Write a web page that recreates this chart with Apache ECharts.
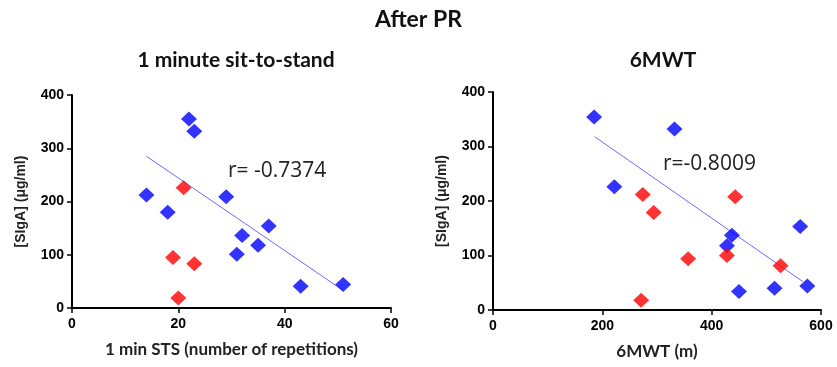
<!DOCTYPE html>
<html><head><meta charset="utf-8">
<script src="https://cdn.jsdelivr.net/npm/echarts@6/dist/echarts.min.js"></script>
<style>html,body{margin:0;padding:0;background:#fff}#c{width:837px;height:367px}</style>
</head><body><div id="c"></div>
<script>
// Left panel: 1 min STS vs SIgA
const stsBlueX = [14, 18, 22, 23, 29, 32, 31, 35, 37, 43, 51];
const stsBlueY = [212, 180, 355, 332, 209, 136, 101, 118, 154, 41, 44];
const stsRedX = [21, 19, 23, 20];
const stsRedY = [226, 95, 83, 19];
const stsFitX = [14, 51];
const stsFitY = [285, 33];
// Right panel: 6MWT vs SIgA
const mwtBlueX = [185, 332, 222, 437, 428, 562, 450, 515, 575];
const mwtBlueY = [354, 332, 226, 137, 118, 153, 34, 40, 44];
const mwtRedX = [274, 294, 443, 357, 428, 526, 271];
const mwtRedY = [212, 179, 208, 94, 100, 81, 18];
const mwtFitX = [186, 567];
const mwtFitY = [318, 52];
const yTicks = [0, 100, 200, 300, 400];
const stsTicks = [0, 20, 40, 60];
const mwtTicks = [0, 200, 400, 600];

const zip = (a, b) => a.map((v, i) => [v, b[i]]);
const chart = echarts.init(document.getElementById('c'), null, {renderer: 'canvas'});

const tickFont = {fontFamily: '"Liberation Sans", Arial, sans-serif', fontWeight: 'bold', fontSize: 14, color: '#000'};
function xAx(gi, ticks, name) {
  return {
    gridIndex: gi, type: 'value', min: ticks[0], max: ticks[ticks.length - 1],
    interval: ticks[1] - ticks[0],
    name: name, nameLocation: 'middle', nameGap: 33,
    nameTextStyle: {fontFamily: 'Lato, "Open Sans", sans-serif', fontWeight: 'bold', fontSize: 17, color: '#222'},
    axisLine: {onZero: false, lineStyle: {color: '#000', width: 2}},
    axisTick: {show: true, length: 5, lineStyle: {color: '#000', width: 1.5}},
    axisLabel: Object.assign({margin: 9}, tickFont),
    splitLine: {show: false}
  };
}
function yAx(gi) {
  return {
    gridIndex: gi, type: 'value', min: yTicks[0], max: yTicks[yTicks.length - 1], interval: yTicks[1] - yTicks[0],
    name: '[SIgA] (μg/ml)', nameLocation: 'middle', nameGap: 44, nameRotate: 90,
    nameTextStyle: {fontFamily: '"Liberation Sans", Arial, sans-serif', fontWeight: 'bold', fontSize: 14, color: '#222'},
    axisLine: {onZero: false, lineStyle: {color: '#000', width: 2}},
    axisTick: {show: true, length: 5, lineStyle: {color: '#000', width: 1.5}},
    axisLabel: Object.assign({margin: 8}, tickFont),
    splitLine: {show: false}
  };
}
const sym = {symbol: 'diamond', symbolSize: [16, 15]};
function pts(xi, x, y, color) {
  return Object.assign({type: 'scatter', xAxisIndex: xi, yAxisIndex: xi, data: zip(x, y),
    itemStyle: {color: color}, z: 3, silent: true}, sym);
}
function fit(xi, x, y) {
  return {type: 'line', xAxisIndex: xi, yAxisIndex: xi, data: zip(x, y), symbol: 'none',
    lineStyle: {color: '#6a6aff', width: 1}, z: 2, silent: true};
}
const titleFont = {fontFamily: 'Lato, "Open Sans", sans-serif', fontWeight: 'bold', color: '#111'};

chart.setOption({
  animation: false,
  title: [
    {text: 'After PR', left: 'center', top: 3, textStyle: Object.assign({fontSize: 23}, titleFont)},
    {text: '1 minute sit-to-stand', left: 231, top: 45, textAlign: 'center', textStyle: Object.assign({fontSize: 21}, titleFont)},
    {text: '6MWT', left: 658, top: 45, textAlign: 'center', textStyle: Object.assign({fontSize: 21}, titleFont)}
  ],
  grid: [
    {left: 72, top: 95, width: 319, height: 213, containLabel: false, outerBoundsMode: 'none'},
    {left: 493, top: 92, width: 328, height: 218, containLabel: false, outerBoundsMode: 'none'}
  ],
  xAxis: [xAx(0, stsTicks, '1 min STS (number of repetitions)'), xAx(1, mwtTicks, '6MWT (m)')],
  yAxis: [yAx(0), yAx(1)],
  graphic: [
    {type: 'text', left: 228, top: 161, style: {text: 'r= -0.7374', fontFamily: '"Open Sans", Lato, sans-serif', fontSize: 21, fill: '#222'}},
    {type: 'text', left: 663, top: 154, style: {text: 'r=-0.8009', fontFamily: '"Open Sans", Lato, sans-serif', fontSize: 21, fill: '#222'}}
  ],
  series: [
    fit(0, stsFitX, stsFitY),
    pts(0, stsBlueX, stsBlueY, '#0000ff'),
    pts(0, stsRedX, stsRedY, '#ff0000'),
    fit(1, mwtFitX, mwtFitY),
    pts(1, mwtBlueX, mwtBlueY, '#0000ff'),
    pts(1, mwtRedX, mwtRedY, '#ff0000')
  ]
});
</script></body></html>
